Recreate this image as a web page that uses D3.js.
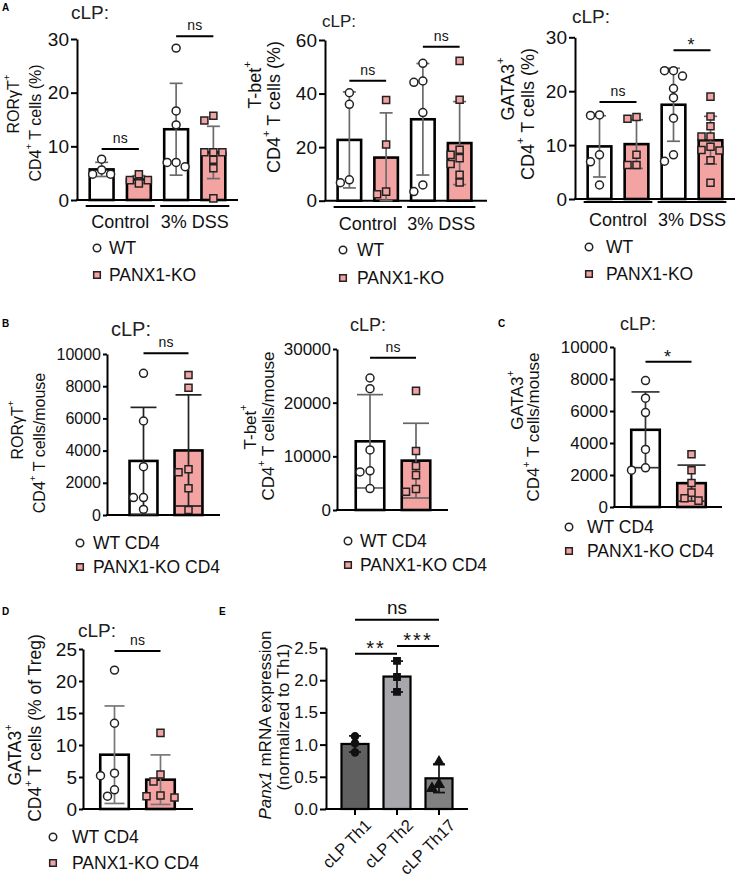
<!DOCTYPE html>
<html>
<head>
<meta charset="utf-8">
<script src="https://cdn.jsdelivr.net/npm/d3@7"></script>
<style>
  body { margin: 0; background: #fff; }
  svg { font-family: "Liberation Sans", Arial, Helvetica, sans-serif; }
</style>
</head>
<body>
<svg id="fig" width="737" height="883"></svg>
<script>
// ---------- data ----------
var groupsA = ["Control", "3% DSS"];
var legendA = ["WT", "PANX1-KO"];
var legendB = ["WT CD4", "PANX1-KO CD4"];

// A: % of CD4+ T cells
var rorCtrlWT = [7.6, 5.6, 4.8, 4.8];
var rorCtrlKO = [4.8, 3.7, 3.7, 3.1];
var rorDssWT  = [28.3, 16.6, 14.0, 7.0, 7.0, 6.2];
var rorDssKO  = [15.7, 14.8, 8.9, 8.9, 8.9, 7.5, 5.9, 0.3];

var tbetCtrlWT = [40.3, 36.0, 7.8, 6.7];
var tbetCtrlKO = [37.6, 21.0, 3.4, 2.4];
var tbetDssWT  = [51.3, 44.7, 44.2, 32.9, 5.9, 3.4];
var tbetDssKO  = [52.2, 37.7, 19.0, 17.1, 15.9, 13.7, 9.7, 6.8];

var gataCtrlWT = [15.6, 15.5, 8.2, 6.9, 2.6];
var gataCtrlKO = [15.2, 14.9, 8.2, 6.3, 6.3];
var gataDssWT  = [23.8, 23.8, 22.8, 20.5, 18.8, 15.0, 8.2, 7.0];
var gataDssKO  = [19.0, 15.3, 13.5, 11.6, 11.6, 9.7, 9.1, 9.0, 7.2, 3.0];

// B, C: cells per mouse
var rorNumWT  = [8800, 5840, 3000, 1080, 1080, 350];
var rorNumKO  = [8700, 7900, 2840, 2650, 1660, 310];
var tbetNumWT = [24600, 22600, 11200, 7300, 7100, 4000];
var tbetNumKO = [22200, 11000, 8200, 6500, 3900, 3400];
var gataNumWT = [7900, 6800, 5900, 3600, 2450, 2300];
var gataNumKO = [3300, 2300, 1500, 900, 550, 400];

// D: % of Treg
var gataTregWT = [21.7, 13.4, 5.6, 5.2, 3.0, 2.0];
var gataTregKO = [11.9, 5.4, 4.3, 2.1, 2.0, 1.8];

// E: Panx1 mRNA, normalized to Th1
var subsets   = ["cLP Th1", "cLP Th2", "cLP Th17"];
var panx1Th1  = [1.13, 1.02, 0.88];
var panx1Th2  = [2.30, 2.05, 1.82];
var panx1Th17 = [0.73, 0.38, 0.32];

// significance bars: height (data units) and label
var sigRorPct  = [9.5, 30.5],  sigRorPctLab  = ["ns", "ns"];
var sigTbetPct = [44.8, 57.5], sigTbetPctLab = ["ns", "ns"];
var sigGataPct = [18.0, 27.6], sigGataPctLab = ["ns", "*"];
var sigRorNum = 10040, sigTbetNum = 28380, sigGataNum = 9080, sigTreg = 24.7;
var sigNumLab = ["ns", "ns", "*", "ns"];
var sigPairsE = [["cLP Th1", "cLP Th2"], ["cLP Th2", "cLP Th17"], ["cLP Th1", "cLP Th17"]];
var sigE = [2.41, 2.53, 2.94], sigELab = ["**", "***", "ns"];

// ---------- helpers ----------
var svg = d3.select("#fig");
var PINK = "#f4a3a3";
var symbolTypes = { circle: d3.symbolCircle, square: d3.symbolSquare, triangle: d3.symbolTriangle };

// {..} -> superscript, _.._ -> italic
function rich(text, str, fs) {
    var parts = str.split(/(\{[^}]*\}|_[^_]*_)/).filter(function(s) { return s.length; });
    var up = 0;
    parts.forEach(function(s) {
        var t = text.append("tspan");
        if (s[0] === "{") {
            t.text(s.slice(1, -1)).attr("font-size", fs * 0.62).attr("dy", -fs * 0.42);
            up = fs * 0.42;
        } else {
            t.text(s[0] === "_" ? s.slice(1, -1) : s);
            if (s[0] === "_") t.attr("font-style", "italic");
            if (up) { t.attr("dy", up); up = 0; }
        }
    });
}

// place dots so they don't overlap (centre first, then left/right)
function swarm(vals, y, step, minDist) {
    var placed = [];
    vals.slice().sort(d3.descending).forEach(function(v) {
        var py = y(v);
        var offs = [0, -step, step, -2 * step, 2 * step, -3 * step, 3 * step];
        for (var i = 0; i < offs.length; i++) {
            var ok = placed.every(function(q) { return Math.hypot(q.dx - offs[i], q.py - py) >= minDist; });
            if (ok) { placed.push({ dx: offs[i], py: py }); return; }
        }
        placed.push({ dx: 0, py: py });
    });
    return placed;
}

function pairBars(wt, ko, prefix) {
    return [{ key: prefix + "WT", v: wt, fill: "#fff", mk: "circle", mfill: "#fff" },
            { key: prefix + "KO", v: ko, fill: PINK,   mk: "square", mfill: PINK }];
}

function drawPanel(p) {
    var g = svg.append("g");
    var y = d3.scaleLinear().domain(p.domain).range([p.yBottom, p.yTop]);
    var x = d3.scaleBand().domain(p.bars.map(function(b) { return b.key; }))
        .range(p.xRange).paddingInner(p.pad).paddingOuter(p.pad / 2);
    var bw = x.bandwidth();
    var cx = function(k) { return x(k) + bw / 2; };

    // y axis
    var yAxis = d3.axisLeft(y).tickValues(p.ticks).tickSizeInner(p.tickLen || 4)
        .tickSizeOuter(0).tickPadding(2).tickFormat(p.fmt || d3.format("d"));
    var ya = g.append("g").attr("transform", "translate(" + p.axisX + ",0)").call(yAxis)
        .attr("font-family", null).attr("font-size", p.tickFs);
    ya.select(".domain").attr("stroke-width", 2);
    ya.selectAll(".tick line").attr("stroke-width", 2);
    ya.selectAll(".tick text").attr("fill", "#111");

    // x axis line
    g.append("line").attr("x1", p.axisX - 1).attr("x2", p.axisEnd)
        .attr("y1", y(0)).attr("y2", y(0)).attr("stroke", "#000").attr("stroke-width", 2);

    if (p.xLabels) {
        var xa = g.append("g").attr("transform", "translate(0," + y(0) + ")")
            .call(d3.axisBottom(x).tickSize(6).tickSizeOuter(0))
            .attr("font-family", null).attr("font-size", p.xLabelFs);
        xa.select(".domain").remove();
        xa.selectAll(".tick line").attr("stroke-width", 2);
        xa.selectAll(".tick text").attr("fill", "#111").attr("text-anchor", "end")
            .attr("x", 0).attr("y", 0).attr("dy", "0.71em")
            .attr("transform", "translate(9,9) rotate(-45)");
    }

    // bars, error bars (mean +/- SD), points
    p.bars.forEach(function(b) {
        var m = d3.mean(b.v), sd = d3.deviation(b.v), c = cx(b.key);
        g.append("rect").attr("x", x(b.key)).attr("width", bw)
            .attr("y", y(m)).attr("height", y(0) - y(m))
            .attr("fill", b.fill).attr("stroke", "#000").attr("stroke-width", p.barStroke);

        var eg = g.append("g").attr("stroke", p.errColor).attr("stroke-width", 1.7);
        var lo = Math.max(0, m - sd), hi = m + sd;
        eg.append("line").attr("x1", c).attr("x2", c).attr("y1", y(lo)).attr("y2", y(hi));
        [lo, hi].forEach(function(v) {
            eg.append("line").attr("x1", c - p.cap / 2).attr("x2", c + p.cap / 2)
                .attr("y1", y(v)).attr("y2", y(v));
        });

        var sym = d3.symbol().type(symbolTypes[b.mk]).size(p.mSize);
        g.selectAll(null).data(swarm(b.v, y, p.spread, p.minDist)).enter()
            .append("path")
            .attr("d", sym)
            .attr("transform", function(d) { return "translate(" + (c + d.dx) + "," + d.py + ")"; })
            .attr("fill", b.mfill).attr("stroke", b.mstroke || "#222").attr("stroke-width", 1.5);
    });

    // group underlines (panel A)
    (p.groups || []).forEach(function(gr) {
        var x1 = x(gr.from) - 4, x2 = x(gr.to) + bw + 4;
        g.append("line").attr("x1", x1).attr("x2", x2).attr("y1", p.groupY).attr("y2", p.groupY)
            .attr("stroke", "#000").attr("stroke-width", 2);
        g.append("text").attr("x", (x1 + x2) / 2).attr("y", p.groupLabelY)
            .attr("text-anchor", "middle").attr("font-size", 18).attr("fill", "#111").text(gr.label);
    });

    // significance bars
    p.sig.forEach(function(s) {
        var x1 = cx(s[0]), x2 = cx(s[1]), yy = y(s[2]);
        g.append("line").attr("x1", x1).attr("x2", x2).attr("y1", yy).attr("y2", yy)
            .attr("stroke", "#000").attr("stroke-width", 2);
        var star = s[3].indexOf("*") >= 0;
        g.append("text").attr("x", (x1 + x2) / 2).attr("y", star ? yy + 1 : yy - 6)
            .attr("text-anchor", "middle").attr("fill", "#111")
            .attr("font-size", star ? p.starFs : p.nsFs)
            .attr("letter-spacing", star ? 2 : 0).text(s[3]);
    });

    // title
    if (p.title) {
        g.append("text").attr("x", p.title[0]).attr("y", p.title[1]).attr("font-size", p.title[2])
            .attr("fill", "#222").text("cLP:");
    }

    // y axis title, two lines
    p.yTitle.forEach(function(l) {
        var t = g.append("text").attr("transform", "translate(" + l[1] + "," + l[2] + ") rotate(-90)")
            .attr("text-anchor", "middle").attr("dominant-baseline", "central")
            .attr("font-size", p.yFs).attr("fill", "#111");
        rich(t, l[0], p.yFs);
    });

    // legend
    if (p.legend) {
        var L = p.legend;
        L.labels.forEach(function(lab, i) {
            var b = p.bars[i];
            g.append("path").attr("d", d3.symbol().type(symbolTypes[b.mk]).size(44)())
                .attr("transform", "translate(" + L.mx + "," + L.rows[i] + ")")
                .attr("fill", b.mfill).attr("stroke", "#222").attr("stroke-width", 1.5);
            g.append("text").attr("x", L.tx).attr("y", L.rows[i]).attr("dominant-baseline", "central")
                .attr("font-size", 17.5).attr("fill", "#111").text(lab);
        });
    }
}

function groupsFor(names) {
    return names.map(function(n) { return { label: n, from: n + "WT", to: n + "KO" }; });
}
function sigFor(levels, labels) {
    return groupsA.map(function(n, i) { return [n + "WT", n + "KO", levels[i], labels[i]]; });
}

var common = { pad: 0.36, barStroke: 2.6, mSize: 50, nsFs: 14, starFs: 18 };

// ---------- panel A ----------
drawPanel(Object.assign({}, common, {
    axisX: 77, axisEnd: 238, yTop: 39, yBottom: 200, domain: [0, 30], ticks: [0, 10, 20, 30], tickFs: 19, tickLen: 6,
    xRange: [83, 232], cap: 13, errColor: "#6b6b6b", spread: 9, minDist: 7.5,
    bars: pairBars(rorCtrlWT, rorCtrlKO, groupsA[0]).concat(pairBars(rorDssWT, rorDssKO, groupsA[1])),
    groups: groupsFor(groupsA), groupY: 206, groupLabelY: 228,
    sig: sigFor(sigRorPct, sigRorPctLab),
    title: [71, 19, 19], yFs: 16,
    yTitle: [["RORγT{+}", 13, 104], ["CD4{+} T cells (%)", 35, 123]],
    legend: { mx: 97, tx: 109, rows: [248, 275], labels: legendA }
}));
drawPanel(Object.assign({}, common, {
    axisX: 325, axisEnd: 487, yTop: 40, yBottom: 200.7, domain: [0, 60], ticks: [0, 20, 40, 60], tickFs: 19, tickLen: 6,
    xRange: [331, 478], cap: 13, errColor: "#6b6b6b", spread: 9, minDist: 7.5,
    bars: pairBars(tbetCtrlWT, tbetCtrlKO, groupsA[0]).concat(pairBars(tbetDssWT, tbetDssKO, groupsA[1])),
    groups: groupsFor(groupsA), groupY: 207, groupLabelY: 230,
    sig: sigFor(sigTbetPct, sigTbetPctLab),
    title: [322, 27, 17], yFs: 18,
    yTitle: [["T-bet{+}", 255, 85], ["CD4{+} T cells (%)", 274, 107]],
    legend: { mx: 343, tx: 357, rows: [250, 278], labels: legendA }
}));
drawPanel(Object.assign({}, common, {
    axisX: 575, axisEnd: 735, yTop: 37.3, yBottom: 199, domain: [0, 30], ticks: [0, 10, 20, 30], tickFs: 19, tickLen: 6,
    xRange: [581, 729], cap: 13, errColor: "#6b6b6b", spread: 9, minDist: 7.5,
    bars: pairBars(gataCtrlWT, gataCtrlKO, groupsA[0]).concat(pairBars(gataDssWT, gataDssKO, groupsA[1])),
    groups: groupsFor(groupsA), groupY: 202, groupLabelY: 226,
    sig: sigFor(sigGataPct, sigGataPctLab),
    title: [572, 23, 19], yFs: 18,
    yTitle: [["GATA3{+}", 508, 89], ["CD4{+} T cells (%)", 528, 114]],
    legend: { mx: 589, tx: 606, rows: [247, 274], labels: legendA }
}));

// ---------- panels B, C, D ----------
var twoBar = Object.assign({}, common, { pad: 0.38, spread: 10, minDist: 7.5 });
drawPanel(Object.assign({}, twoBar, {
    axisX: 107, axisEnd: 220, yTop: 354, yBottom: 515, domain: [0, 10000], ticks: d3.range(0, 10001, 2000), tickFs: 16,
    xRange: [121, 211], cap: 26, errColor: "#222",
    bars: pairBars(rorNumWT, rorNumKO, ""),
    sig: [["WT", "KO", sigRorNum, sigNumLab[0]]],
    title: [111, 336, 20], yFs: 16,
    yTitle: [["RORγT{+}", 17, 430], ["CD4{+} T cells/mouse", 39, 443]],
    legend: { mx: 80, tx: 93, rows: [543, 567], labels: legendB }
}));
drawPanel(Object.assign({}, twoBar, {
    axisX: 337, axisEnd: 448, yTop: 349, yBottom: 510, domain: [0, 30000], ticks: [0, 10000, 20000, 30000], tickFs: 17,
    xRange: [347, 439], cap: 26, errColor: "#666",
    bars: pairBars(tbetNumWT, tbetNumKO, ""),
    sig: [["WT", "KO", sigTbetNum, sigNumLab[1]]],
    title: [350, 331, 18], yFs: 17,
    yTitle: [["T-bet{+}", 250, 427], ["CD4{+} T cells/mouse", 268, 426]],
    legend: { mx: 348, tx: 360, rows: [541, 565], labels: legendB }
}));
drawPanel(Object.assign({}, twoBar, {
    axisX: 614, axisEnd: 722, yTop: 347, yBottom: 507, domain: [0, 10000], ticks: d3.range(0, 10001, 2000), tickFs: 17,
    xRange: [622.5, 714.5], cap: 28, errColor: "#333", spread: 7,
    bars: pairBars(gataNumWT, gataNumKO, ""),
    sig: [["WT", "KO", sigGataNum, sigNumLab[2]]],
    title: [620, 330, 18], yFs: 17,
    yTitle: [["GATA3{+}", 517, 400], ["CD4{+} T cells/mouse", 533, 427]],
    legend: { mx: 569, tx: 587, rows: [527, 551], labels: legendB }
}));
drawPanel(Object.assign({}, twoBar, {
    axisX: 83, axisEnd: 193, yTop: 649, yBottom: 809, domain: [0, 25], ticks: d3.range(0, 26, 5), tickFs: 19,
    xRange: [91.5, 183.5], cap: 20, errColor: "#777", spread: 7,
    bars: pairBars(gataTregWT, gataTregKO, ""),
    sig: [["WT", "KO", sigTreg, sigNumLab[3]]],
    title: [78, 637, 19], yFs: 17.5,
    yTitle: [["GATA3{+}", 15, 755], ["CD4{+} T cells (% of Treg)", 35, 728]],
    legend: { mx: 53, tx: 72, rows: [837, 863], labels: legendB }
}));

// ---------- panel E ----------
drawPanel(Object.assign({}, common, {
    axisX: 326, axisEnd: 468, yTop: 648, yBottom: 809, domain: [0, 2.5], ticks: d3.range(0, 2.51, 0.5),
    fmt: d3.format(".1f"), tickFs: 17, tickLen: 6, xLabels: true, xLabelFs: 16.5, barStroke: 2.2,
    xRange: [334, 460], pad: 0.357, cap: 12, errColor: "#111", spread: 7, minDist: 6, mSize: 40,
    bars: [
        { key: subsets[0], v: panx1Th1,  fill: "#606060", mk: "circle",   mfill: "#111", mstroke: "#111" },
        { key: subsets[1], v: panx1Th2,  fill: "#a8a8ac", mk: "square",   mfill: "#111", mstroke: "#111" },
        { key: subsets[2], v: panx1Th17, fill: "#808080", mk: "triangle", mfill: "#111", mstroke: "#111" }
    ],
    sig: sigPairsE.map(function(pr, i) { return [pr[0], pr[1], sigE[i], sigELab[i]]; }),
    nsFs: 19, starFs: 20, yFs: 17,
    yTitle: [["_Panx1_ mRNA expression", 265, 725], ["(normalized to Th1)", 283, 717]]
}));

// panel letters
var letters = [["A", 2, 11], ["B", 2, 327], ["C", 498, 327], ["D", 2, 615], ["E", 219, 615]];
svg.selectAll(".plabel").data(letters).enter().append("text")
    .attr("class", "plabel")
    .attr("x", function(d) { return d[1]; }).attr("y", function(d) { return d[2]; })
    .attr("font-size", 10).attr("font-weight", "bold").text(function(d) { return d[0]; });
</script>
</body>
</html>
